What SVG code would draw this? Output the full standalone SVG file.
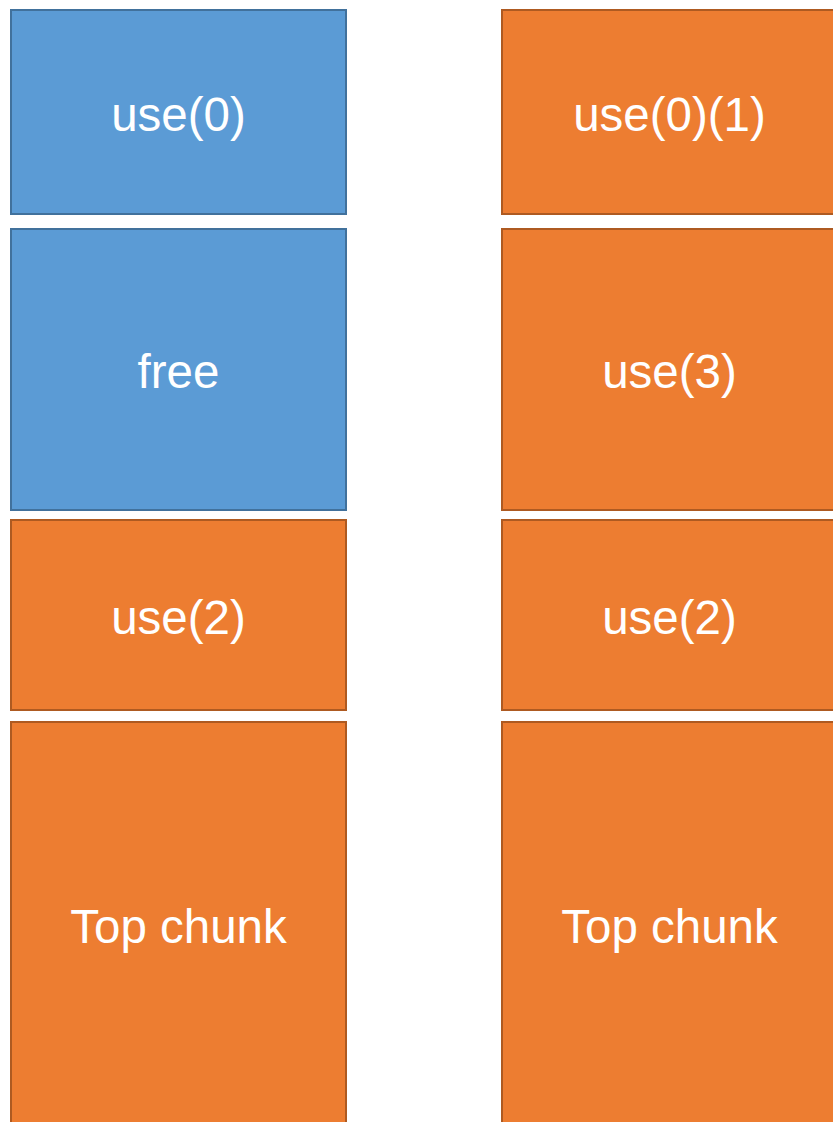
<svg xmlns="http://www.w3.org/2000/svg" width="833" height="1122" viewBox="0 0 833 1122">
<style>
.blue{fill:#5B9BD5;stroke:#41719C;stroke-width:2}
.orange{fill:#ED7D31;stroke:#AE5A21;stroke-width:2}
.t{fill:#fff;font-family:"Liberation Sans",Arial,sans-serif;font-size:47.5px;text-anchor:middle;dominant-baseline:central}
</style>
<rect width="833" height="1122" fill="#fff"/>
<g id="l-use0"><rect class="blue" x="11" y="10" width="335" height="204"/><text class="t" x="178.5" y="114">use(0)</text></g>
<g id="l-free"><rect class="blue" x="11" y="229" width="335" height="281"/><text class="t" x="178.5" y="371">free</text></g>
<g id="l-use2"><rect class="orange" x="11" y="520" width="335" height="190"/><text class="t" x="178.5" y="617">use(2)</text></g>
<g id="l-top"><rect class="orange" x="11" y="722" width="335" height="420"/><text class="t" x="178.5" y="926">Top chunk</text></g>
<g id="r-use01"><rect class="orange" x="502" y="10" width="335" height="204"/><text class="t" x="669.5" y="114">use(0)(1)</text></g>
<g id="r-use3"><rect class="orange" x="502" y="229" width="335" height="281"/><text class="t" x="669.5" y="371">use(3)</text></g>
<g id="r-use2"><rect class="orange" x="502" y="520" width="335" height="190"/><text class="t" x="669.5" y="617">use(2)</text></g>
<g id="r-top"><rect class="orange" x="502" y="722" width="335" height="420"/><text class="t" x="669.5" y="926">Top chunk</text></g>
<g id="connectors"/>
</svg>
